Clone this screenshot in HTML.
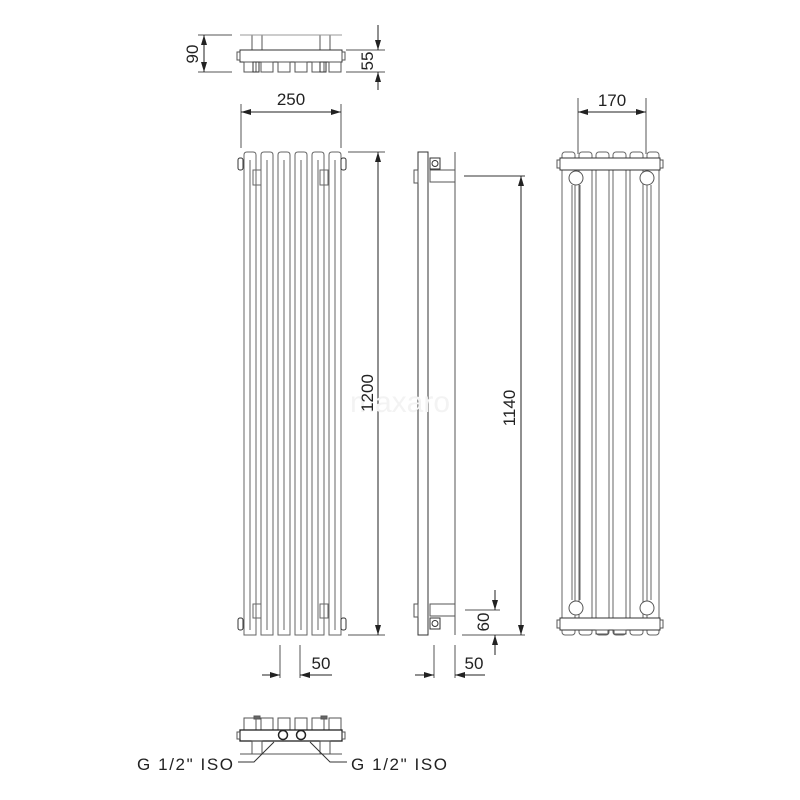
<!DOCTYPE html>
<html><head><meta charset="utf-8"><style>body{margin:0;background:#fff}svg{display:block}</style></head><body>
<svg width="800" height="800" viewBox="0 0 800 800" xmlns="http://www.w3.org/2000/svg" font-family="'Liberation Sans',sans-serif">
<defs>
<marker id="a" viewBox="0 0 10 6" refX="10" refY="3" markerWidth="10" markerHeight="6" orient="auto-start-reverse" markerUnits="userSpaceOnUse"><path d="M0,0L10,3L0,6z" fill="#222"/></marker>
</defs>
<g fill="none" stroke="#555" stroke-width="1">
<rect x="252" y="35" width="10" height="15"/><rect x="320" y="35" width="10" height="15"/>
<line x1="240" y1="35" x2="342" y2="35" stroke="#999"/>
<rect x="240" y="50" width="102" height="12" stroke="#333"/>
<rect x="237" y="52" width="3" height="8"/><rect x="342" y="52" width="3" height="8"/>
<rect x="244" y="62" width="12" height="10"/><rect x="261" y="62" width="12" height="10"/><rect x="278" y="62" width="12" height="10"/><rect x="295" y="62" width="12" height="10"/><rect x="312" y="62" width="12" height="10"/><rect x="329" y="62" width="12" height="10"/>
<rect x="253" y="62" width="6" height="10" stroke="#333"/><rect x="320" y="62" width="6" height="10" stroke="#333"/>
<line x1="198" y1="35" x2="232" y2="35"/><line x1="198" y1="72" x2="232" y2="72"/>
<line x1="346" y1="50" x2="385" y2="50"/><line x1="346" y1="72" x2="385" y2="72"/>
<g stroke="#666">
<path d="M244,635V155q0,-3 3,-3h6q3,0 3,3V635z"/>
<path d="M261,635V155q0,-3 3,-3h6q3,0 3,3V635z"/>
<path d="M278,635V155q0,-3 3,-3h6q3,0 3,3V635z"/>
<path d="M295,635V155q0,-3 3,-3h6q3,0 3,3V635z"/>
<path d="M312,635V155q0,-3 3,-3h6q3,0 3,3V635z"/>
<path d="M329,635V155q0,-3 3,-3h6q3,0 3,3V635z"/>
<line x1="250" y1="160" x2="250" y2="630"/><line x1="267" y1="160" x2="267" y2="630"/><line x1="284" y1="160" x2="284" y2="630"/><line x1="301" y1="160" x2="301" y2="630"/><line x1="318" y1="160" x2="318" y2="630"/><line x1="335" y1="160" x2="335" y2="630"/>
<rect x="253" y="170" width="8" height="15"/><rect x="320" y="170" width="8" height="15"/>
<rect x="253" y="604" width="8" height="14"/><rect x="320" y="604" width="8" height="14"/>
</g>
<rect x="238" y="158" width="5" height="12" rx="2" stroke="#333"/><rect x="341" y="158" width="5" height="12" rx="2" stroke="#333"/>
<rect x="238" y="618" width="5" height="12" rx="2" stroke="#333"/><rect x="341" y="618" width="5" height="12" rx="2" stroke="#333"/>
<line x1="241" y1="104" x2="241" y2="148"/><line x1="341" y1="104" x2="341" y2="148"/>
<line x1="348" y1="152" x2="385" y2="152"/><line x1="348" y1="635" x2="385" y2="635"/>
<line x1="280" y1="645" x2="280" y2="678"/><line x1="300" y1="645" x2="300" y2="678"/>
<rect x="418" y="152" width="10" height="483" stroke="#333"/>
<line x1="455" y1="152" x2="455" y2="635"/>
<rect x="414" y="170" width="4" height="13"/><rect x="414" y="604" width="4" height="13"/>
<rect x="430" y="158" width="10" height="11" stroke="#333"/><circle cx="435" cy="163.5" r="3" stroke="#333"/>
<rect x="430" y="170" width="25" height="12"/>
<rect x="430" y="604" width="25" height="12"/>
<rect x="430" y="618" width="10" height="11" stroke="#333"/><circle cx="435" cy="623.5" r="3" stroke="#333"/>
<line x1="464" y1="176" x2="525" y2="176" stroke="#333"/><line x1="462" y1="635" x2="525" y2="635"/>
<line x1="465" y1="610" x2="500" y2="610"/>
<line x1="434" y1="645" x2="434" y2="678"/><line x1="455" y1="645" x2="455" y2="678"/>
<g stroke="#666">
<rect x="562" y="152" width="13" height="483" rx="3"/><rect x="579" y="152" width="13" height="483" rx="3"/><rect x="596" y="152" width="13" height="483" rx="3"/><rect x="613" y="152" width="13" height="483" rx="3"/><rect x="630" y="152" width="13" height="483" rx="3"/><rect x="647" y="152" width="12" height="483" rx="3"/>
<line x1="572" y1="185" x2="572" y2="600"/><line x1="580" y1="185" x2="580" y2="600"/><line x1="643" y1="185" x2="643" y2="600"/><line x1="651" y1="185" x2="651" y2="600"/>
</g>
<rect x="560" y="158" width="100" height="12" fill="#fff" stroke="#333"/>
<rect x="557" y="160" width="3" height="8"/><rect x="660" y="160" width="3" height="8"/>
<rect x="560" y="618" width="100" height="12" fill="#fff" stroke="#333"/>
<rect x="557" y="620" width="3" height="8"/><rect x="660" y="620" width="3" height="8"/>
<circle cx="576" cy="178" r="7" fill="#fff"/><circle cx="647" cy="178" r="7" fill="#fff"/>
<circle cx="576" cy="608" r="7" fill="#fff"/><circle cx="647" cy="608" r="7" fill="#fff"/>
<rect x="596" y="630" width="12" height="4"/><rect x="614" y="630" width="12" height="4"/>
<line x1="578" y1="98" x2="578" y2="154"/><line x1="646" y1="98" x2="646" y2="154"/>
<rect x="244" y="718" width="12" height="12"/><rect x="261" y="718" width="12" height="12"/><rect x="278" y="718" width="12" height="12"/><rect x="295" y="718" width="12" height="12"/><rect x="312" y="718" width="12" height="12"/><rect x="329" y="718" width="12" height="12"/>
<rect x="254" y="716" width="6" height="3" fill="#666"/><rect x="321" y="716" width="6" height="3" fill="#666"/>
<rect x="240" y="730" width="102" height="11" stroke="#222" stroke-width="1.3"/>
<rect x="237" y="732" width="3" height="7"/><rect x="342" y="732" width="3" height="7"/>
<circle cx="283" cy="735" r="4.5" stroke="#222" stroke-width="1.5"/><circle cx="301" cy="735" r="4.5" stroke="#222" stroke-width="1.5"/>
<rect x="252" y="741" width="10" height="13"/><rect x="320" y="741" width="10" height="13"/>
<line x1="240" y1="754" x2="342" y2="754"/>
<polyline points="238,762 254,762 274,742" stroke="#333"/>
<polyline points="347,762 330,762 310,742" stroke="#333"/>
</g>
<g stroke="#222" stroke-width="1" marker-start="url(#a)" marker-end="url(#a)">
<line x1="204" y1="35" x2="204" y2="72"/>
<line x1="241" y1="112" x2="341" y2="112"/>
<line x1="378" y1="152" x2="378" y2="635"/>
<line x1="521" y1="176" x2="521" y2="635"/>
<line x1="578" y1="112" x2="646" y2="112"/>
</g>
<g stroke="#222" stroke-width="1">
<line x1="378" y1="25" x2="378" y2="50" marker-end="url(#a)"/>
<line x1="378" y1="90" x2="378" y2="72" marker-end="url(#a)"/>
<line x1="495" y1="590" x2="495" y2="610" marker-end="url(#a)"/>
<line x1="495" y1="655" x2="495" y2="635" marker-end="url(#a)"/>
<line x1="262" y1="675" x2="280" y2="675" marker-end="url(#a)"/>
<line x1="332" y1="675" x2="300" y2="675" marker-end="url(#a)"/>
<line x1="415" y1="675" x2="434" y2="675" marker-end="url(#a)"/>
<line x1="485" y1="675" x2="455" y2="675" marker-end="url(#a)"/>
</g>
<text x="400" y="412" font-size="30" fill="#f3f3f3" text-anchor="middle">maxaro</text>
<g fill="#222" font-size="17">
<text x="291" y="105" text-anchor="middle">250</text>
<text x="612" y="106" text-anchor="middle">170</text>
<text x="321" y="669" text-anchor="middle">50</text>
<text x="474" y="669" text-anchor="middle">50</text>
<text transform="translate(198,54) rotate(-90)" text-anchor="middle">90</text>
<text transform="translate(373,61) rotate(-90)" text-anchor="middle">55</text>
<text transform="translate(373,393) rotate(-90)" text-anchor="middle">1200</text>
<text transform="translate(515,408) rotate(-90)" text-anchor="middle">1140</text>
<text transform="translate(489,622) rotate(-90)" text-anchor="middle">60</text>
<text x="137" y="770" letter-spacing="1.6">G 1/2" ISO</text>
<text x="351" y="770" letter-spacing="1.6">G 1/2" ISO</text>
</g>
</svg>
</body></html>
